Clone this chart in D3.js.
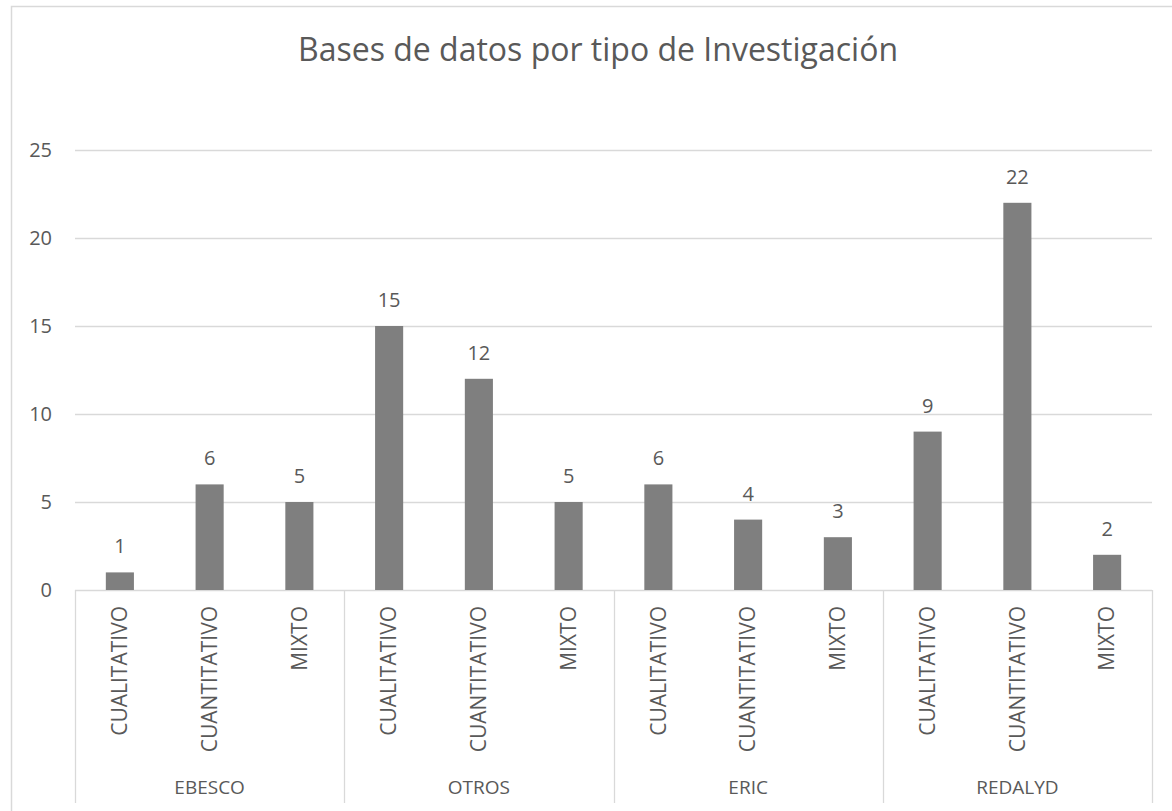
<!DOCTYPE html>
<meta charset="utf-8">
<title>Bases de datos por tipo de Investigación</title>
<script src="https://d3js.org/d3.v7.min.js"></script>
<style>
  body { margin: 0; background: #fff; }
  text { font-family: "Open Sans", "Noto Sans", sans-serif; fill: #595959; }
</style>
<body>
<div id="chart"></div>
<script>

// data
var groups = ["EBESCO", "OTROS", "ERIC", "REDALYD"]
var types = ["CUALITATIVO", "CUANTITATIVO", "MIXTO"]
var values = [
  [1, 6, 5],
  [15, 12, 5],
  [6, 4, 3],
  [9, 22, 2]
]
var yTicks = [0, 5, 10, 15, 20, 25]
var title = "Bases de datos por tipo de Investigación"

var W = 1172, H = 811
var plot = {left: 75, right: 1152, top: 150, bottom: 590}
var fs = "20px"

var svg = d3.select("#chart").append("svg")
  .attr("width", W)
  .attr("height", H)

// outer chart frame (cropped on right and bottom)
svg.append("path")
  .attr("d", "M11.5," + H + " V6.5 H" + W)
  .attr("fill", "none")
  .attr("stroke", "#d9d9d9")
  .attr("stroke-width", 1.5)

svg.append("text")
  .attr("x", 598)
  .attr("y", 61)
  .attr("text-anchor", "middle")
  .style("font-size", "32px")
  .text(title)

var x0 = d3.scaleBand()
  .domain(groups)
  .range([plot.left, plot.right])

var x1 = d3.scaleBand()
  .domain(types)
  .range([0, x0.bandwidth()])
  .paddingInner(0.687)
  .paddingOuter(0.3435)

var y = d3.scaleLinear()
  .domain([0, 25])
  .range([plot.bottom, plot.top])

// gridlines
svg.append("g")
  .selectAll("line")
  .data(yTicks)
  .enter()
  .append("line")
    .attr("x1", plot.left)
    .attr("x2", plot.right)
    .attr("y1", function(d){ return Math.round(y(d)) + 0.5 })
    .attr("y2", function(d){ return Math.round(y(d)) + 0.5 })
    .attr("stroke", "#d9d9d9")
    .attr("stroke-width", 1.3)

svg.append("g")
  .selectAll("text")
  .data(yTicks)
  .enter()
  .append("text")
    .attr("x", 52)
    .attr("y", function(d){ return y(d) })
    .attr("dy", "0.35em")
    .attr("text-anchor", "end")
    .style("font-size", fs)
    .text(function(d){ return d })

// category dividers
var edges = groups.map(function(g){ return x0(g) }).concat([plot.right])
svg.append("g")
  .selectAll("line")
  .data(edges)
  .enter()
  .append("line")
    .attr("x1", function(d){ return Math.round(d) + 0.5 })
    .attr("x2", function(d){ return Math.round(d) + 0.5 })
    .attr("y1", plot.bottom)
    .attr("y2", 803)
    .attr("stroke", "#d9d9d9")
    .attr("stroke-width", 1.3)

var gs = svg.selectAll(".grp")
  .data(groups)
  .enter()
  .append("g")
    .attr("class", "grp")
    .attr("transform", function(g){ return "translate(" + x0(g) + ",0)" })

gs.selectAll("rect")
  .data(function(g, i){ return types.map(function(t, j){ return {t: t, v: values[i][j]} }) })
  .enter()
  .append("rect")
    .attr("x", function(d){ return x1(d.t) })
    .attr("width", x1.bandwidth())
    .attr("y", function(d){ return y(d.v) })
    .attr("height", function(d){ return y(0) - y(d.v) })
    .attr("fill", "#7f7f7f")

gs.selectAll(".val")
  .data(function(g, i){ return types.map(function(t, j){ return {t: t, v: values[i][j]} }) })
  .enter()
  .append("text")
    .attr("class", "val")
    .attr("x", function(d){ return x1(d.t) + x1.bandwidth() / 2 })
    .attr("y", function(d){ return y(d.v) - 19 })
    .attr("text-anchor", "middle")
    .style("font-size", fs)
    .text(function(d){ return d.v })

gs.selectAll(".cat")
  .data(types)
  .enter()
  .append("text")
    .attr("class", "cat")
    .attr("transform", function(t){
      return "translate(" + (x1(t) + x1.bandwidth() / 2) + "," + (plot.bottom + 16) + ") rotate(-90)" })
    .attr("text-anchor", "end")
    .attr("dy", "0.35em")
    .style("font-size", "21px")
    .text(function(t){ return t })

gs.append("text")
  .attr("x", x0.bandwidth() / 2)
  .attr("y", 787)
  .attr("dy", "0.35em")
  .attr("text-anchor", "middle")
  .style("font-size", "19px")
  .text(function(g){ return g })

</script>
</body>
